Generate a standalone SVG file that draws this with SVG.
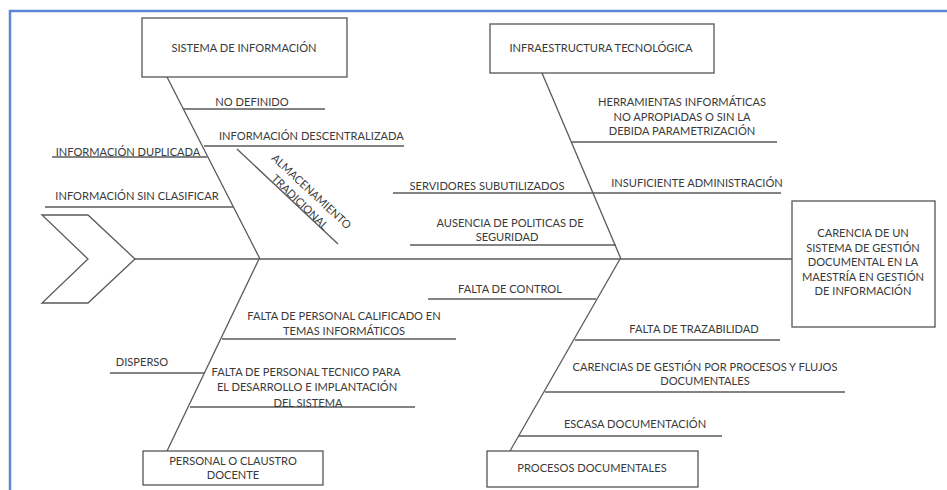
<svg xmlns="http://www.w3.org/2000/svg" width="947" height="490" viewBox="0 0 947 490">
<style>
.t{font-family:Lato,"Liberation Sans",sans-serif;font-size:11.1px;fill:#3a3a3a;text-anchor:middle}
.s{text-anchor:start}
.box{fill:#fff;stroke:#555;stroke-width:1.3}
.ln{stroke:#5a5a5a;stroke-width:1.3;fill:none}
</style>
<rect x="0" y="0" width="947" height="490" fill="#fff"/>
<path d="M10 490 V11 H947" fill="none" stroke="#5b87d4" stroke-width="2.5"/>
<g id="connectors" class="ln">
<polygon points="42,215 88,215 135,259 88,303 42,303 88,259"/>
<line x1="135" y1="259" x2="792" y2="259"/>
<line x1="167" y1="77" x2="260" y2="259"/>
<line x1="542" y1="73" x2="621" y2="259"/>
<line x1="259" y1="259" x2="167" y2="451"/>
<line x1="620" y1="259" x2="510" y2="451"/>
<line x1="237" y1="149" x2="338" y2="244"/>
<line x1="183" y1="109" x2="325" y2="109"/>
<line x1="204" y1="146" x2="404" y2="146"/>
<line x1="52" y1="157" x2="207" y2="157"/>
<line x1="45" y1="207" x2="233" y2="207"/>
<line x1="572" y1="142" x2="777" y2="142"/>
<line x1="393" y1="193" x2="781" y2="193"/>
<line x1="410" y1="245" x2="616" y2="245"/>
<line x1="428" y1="299" x2="596" y2="299"/>
<line x1="222" y1="339" x2="456" y2="339"/>
<line x1="575" y1="340" x2="780" y2="340"/>
<line x1="110" y1="373" x2="204" y2="373"/>
<line x1="190" y1="407" x2="415" y2="407"/>
<line x1="545" y1="392" x2="845" y2="392"/>
<line x1="519" y1="436" x2="722" y2="436"/>
</g>
<g id="sistema-informacion">
<rect class="box" x="142" y="18" width="205" height="59"/>
<text class="t" x="244" y="52">SISTEMA DE INFORMACIÓN</text>
</g>
<g id="infraestructura">
<rect class="box" x="490" y="24" width="224" height="49"/>
<text class="t" x="601" y="52">INFRAESTRUCTURA TECNOLÓGICA</text>
</g>
<g id="efecto">
<rect class="box" x="792" y="201" width="143" height="126"/>
<text class="t" x="863" y="237">CARENCIA DE UN</text>
<text class="t" x="863" y="251.5">SISTEMA DE GESTIÓN</text>
<text class="t" x="863" y="266">DOCUMENTAL EN LA</text>
<text class="t" x="863" y="280.5">MAESTRÍA EN GESTIÓN</text>
<text class="t" x="863" y="295">DE INFORMACIÓN</text>
</g>
<g id="personal">
<rect class="box" x="143" y="451" width="180" height="34"/>
<text class="t" x="233" y="465">PERSONAL O CLAUSTRO</text>
<text class="t" x="233" y="479">DOCENTE</text>
</g>
<g id="procesos">
<rect class="box" x="487" y="451" width="211" height="36"/>
<text class="t" x="592" y="472">PROCESOS DOCUMENTALES</text>
</g>
<g id="causas-sistema">
<text class="t" x="252" y="106">NO DEFINIDO</text>
<text class="t s" x="219" y="140">INFORMACIÓN DESCENTRALIZADA</text>
<text class="t" x="128" y="156">INFORMACIÓN DUPLICADA</text>
<text class="t" x="137" y="200">INFORMACIÓN SIN CLASIFICAR</text>
<text class="t" transform="translate(311.5,191.5) rotate(43)" y="4">ALMACENAMIENTO</text>
<text class="t" transform="translate(300,202) rotate(44)" y="4">TRADICIONAL</text>
</g>
<g id="causas-infra">
<text class="t" x="682" y="106">HERRAMIENTAS INFORMÁTICAS</text>
<text class="t" x="682" y="121">NO APROPIADAS O SIN LA</text>
<text class="t" x="682" y="135">DEBIDA PARAMETRIZACIÓN</text>
<text class="t" x="487" y="190">SERVIDORES SUBUTILIZADOS</text>
<text class="t" x="697" y="187">INSUFICIENTE ADMINISTRACIÓN</text>
<text class="t" x="510" y="227">AUSENCIA DE POLITICAS DE</text>
<text class="t" x="507" y="241">SEGURIDAD</text>
</g>
<g id="causas-personal">
<text class="t" x="344" y="320">FALTA DE PERSONAL CALIFICADO EN</text>
<text class="t" x="344" y="335">TEMAS INFORMÁTICOS</text>
<text class="t" x="142" y="366">DISPERSO</text>
<text class="t" x="306" y="376">FALTA DE PERSONAL TECNICO PARA</text>
<text class="t" x="307" y="391">EL DESARROLLO E IMPLANTACIÓN</text>
<text class="t" x="308" y="407">DEL SISTEMA</text>
</g>
<g id="causas-procesos">
<text class="t" x="510" y="293">FALTA DE CONTROL</text>
<text class="t" x="694" y="333">FALTA DE TRAZABILIDAD</text>
<text class="t" x="705" y="371">CARENCIAS DE GESTIÓN POR PROCESOS Y FLUJOS</text>
<text class="t" x="705" y="385">DOCUMENTALES</text>
<text class="t" x="635" y="428">ESCASA DOCUMENTACIÓN</text>
</g>
</svg>
